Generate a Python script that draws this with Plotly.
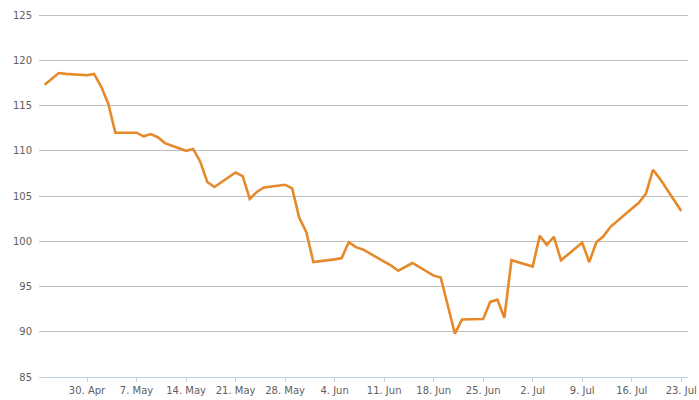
import plotly.graph_objects as go

dates = [
    "2012-04-24", "2012-04-25", "2012-04-26", "2012-04-27", "2012-04-30",
    "2012-05-01", "2012-05-02", "2012-05-03", "2012-05-04", "2012-05-07",
    "2012-05-08", "2012-05-09", "2012-05-10", "2012-05-11", "2012-05-14",
    "2012-05-15", "2012-05-16", "2012-05-17", "2012-05-18", "2012-05-21",
    "2012-05-22", "2012-05-23", "2012-05-24", "2012-05-25", "2012-05-28",
    "2012-05-29", "2012-05-30", "2012-05-31", "2012-06-01", "2012-06-04",
    "2012-06-05", "2012-06-06", "2012-06-07", "2012-06-08", "2012-06-11",
    "2012-06-12", "2012-06-13", "2012-06-14", "2012-06-15", "2012-06-18",
    "2012-06-19", "2012-06-20", "2012-06-21", "2012-06-22", "2012-06-25",
    "2012-06-26", "2012-06-27", "2012-06-28", "2012-06-29", "2012-07-02",
    "2012-07-03", "2012-07-04", "2012-07-05", "2012-07-06", "2012-07-09",
    "2012-07-10", "2012-07-11", "2012-07-12", "2012-07-13", "2012-07-16",
    "2012-07-17", "2012-07-18", "2012-07-19", "2012-07-20", "2012-07-23",
]
values = [
    117.3, 118.0, 118.6, 118.5, 118.35,
    118.5, 117.1, 115.2, 112.0, 112.0,
    111.6, 111.85, 111.5, 110.85, 110.0,
    110.2, 108.8, 106.55, 106.0, 107.6,
    107.2, 104.7, 105.45, 105.95, 106.25,
    105.85, 102.6, 101.0, 97.7, 98.0,
    98.15, 99.9, 99.35, 99.1, 97.8,
    97.3, 96.75, 97.2, 97.6, 96.2,
    96.0, 92.9, 89.8, 91.35, 91.4,
    93.3, 93.55, 91.55, 97.9, 97.2,
    100.6, 99.6, 100.5, 97.9, 99.85,
    97.7, 99.9, 100.55, 101.6, 103.6,
    104.25, 105.25, 107.9, 106.9, 103.35,
]

tick_vals = ["2012-04-30", "2012-05-07", "2012-05-14", "2012-05-21", "2012-05-28",
             "2012-06-04", "2012-06-11", "2012-06-18", "2012-06-25", "2012-07-02",
             "2012-07-09", "2012-07-16", "2012-07-23"]
tick_text = ["30. Apr", "7. May", "14. May", "21. May", "28. May", "4. Jun", "11. Jun",
             "18. Jun", "25. Jun", "2. Jul", "9. Jul", "16. Jul", "23. Jul"]
y_ticks = [85, 90, 95, 100, 105, 110, 115, 120, 125]

fig = go.Figure()
fig.add_trace(go.Scatter(
    x=dates, y=values, mode="lines",
    line=dict(color="#e5892a", width=2.6),
    showlegend=False, hoverinfo="x+y",
))

fig.update_layout(
    width=699, height=400,
    margin=dict(l=39, r=11, t=14, b=23),
    paper_bgcolor="white", plot_bgcolor="white",
    font=dict(family="DejaVu Sans", size=10, color="#606060"),
    xaxis=dict(
        range=["2012-04-23 05:00", "2012-07-23 23:00"],
        tickvals=tick_vals, ticktext=tick_text,
        showgrid=False, zeroline=False, automargin=False,
        showline=True, linecolor="#c0d0e0", linewidth=1,
        ticks="outside", ticklen=4, tickcolor="#c0d0e0",
        tickfont=dict(size=10, color="#606060"),
    ),
    yaxis=dict(
        range=[85, 125.12], tickvals=y_ticks,
        showgrid=True, gridcolor="#c0c0c0", gridwidth=1,
        zeroline=False, showline=False, automargin=False,
        ticks="", ticklabelstandoff=6,
        tickfont=dict(size=10, color="#606060"),
    ),
)

fig.write_html(
    "out.html",
    config={"displayModeBar": False},
    post_script="document.body.style.margin='0';document.body.style.overflow='hidden';",
)
